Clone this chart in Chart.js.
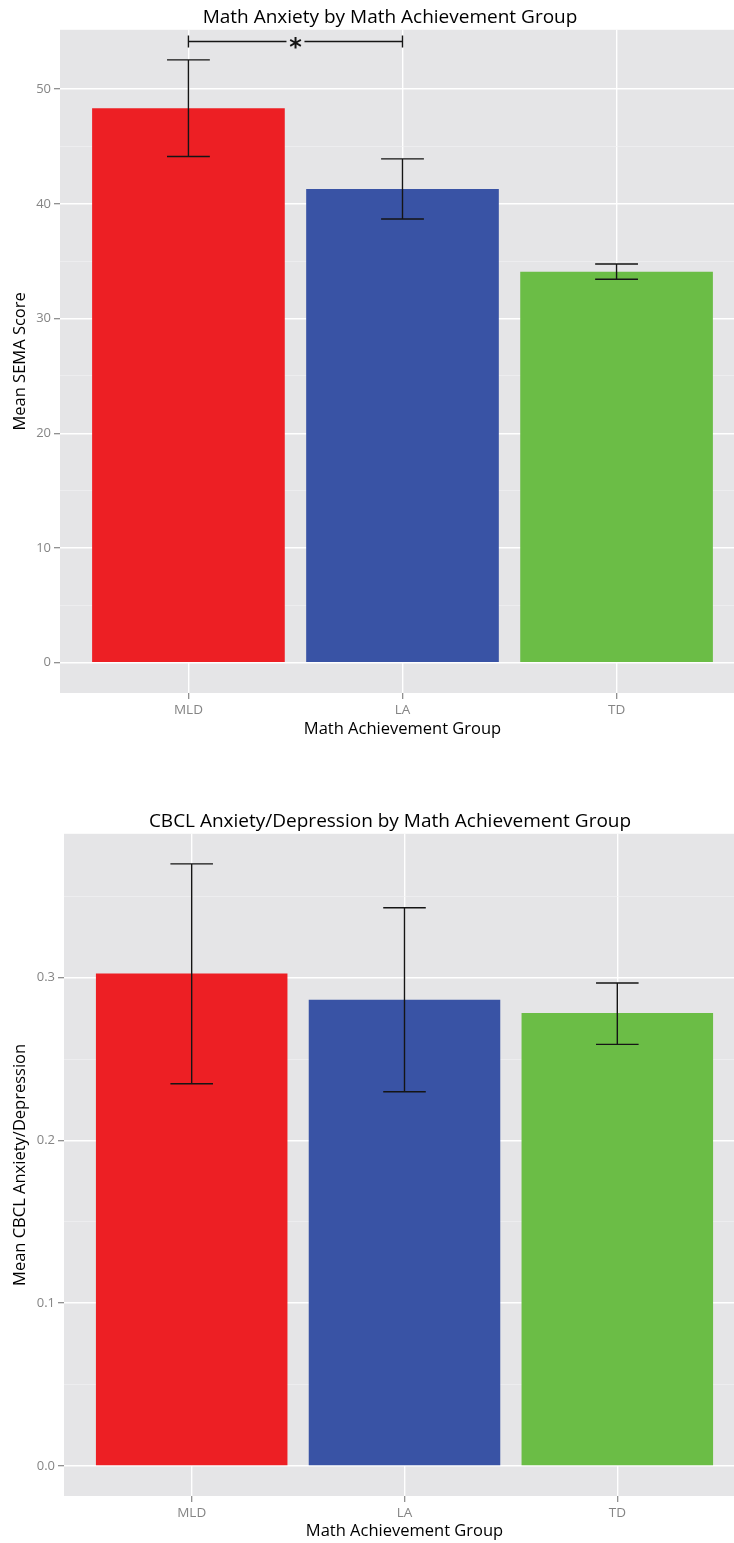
<!DOCTYPE html>
<html>
<head>
<meta charset="utf-8">
<script src="https://cdn.jsdelivr.net/npm/chart.js@4.4.1/dist/chart.umd.min.js"></script>
<style>
  body { margin: 0; background: #fff; overflow: hidden; width: 734px; height: 1543px; }
  .box { position: absolute; left: 0; }
</style>
</head>
<body>
<div class="box" style="top:0"><canvas id="semaChart" width="780" height="745"></canvas></div>
<div class="box" style="top:800px"><canvas id="cbclChart" width="780" height="743"></canvas></div>
<script>
// ===== DATA =====
const groups = ['MLD', 'LA', 'TD'];
const barColors = ['#ED1F24', '#3953A5', '#6BBD46'];

// top chart: SEMA
const semaMeans = [48.34, 41.3, 34.09];
const semaLow = [44.12, 38.68, 33.43];
const semaHigh = [52.55, 43.92, 34.76];
const semaTicks = [0, 10, 20, 30, 40, 50];
const semaMinor = [5, 15, 25, 35, 45];

// significance bracket between MLD and LA
const sigPair = [0, 1];
const sigValue = 54.15;
const sigLabel = '*';

// bottom chart: CBCL
const cbclMeans = [0.3025, 0.2865, 0.2783];
const cbclLow = [0.2348, 0.2299, 0.259];
const cbclHigh = [0.3699, 0.343, 0.2967];
const cbclTicks = [0, 0.1, 0.2, 0.3];
const cbclMinor = [0.05, 0.15, 0.25, 0.35];

Chart.defaults.font.family = "'Open Sans', sans-serif";

const TICK_GREY = '#858585';

// grey ggplot-like panel
const panelBg = {
  id: 'panelBg',
  beforeDraw(chart) {
    const { ctx, chartArea: a } = chart;
    ctx.save();
    ctx.fillStyle = '#E5E5E7';
    ctx.fillRect(a.left, a.top, a.right - a.left, a.bottom - a.top);
    ctx.restore();
  }
};

// error bars from dataset.errLow / errHigh
const errorBars = {
  id: 'errorBars',
  afterDatasetsDraw(chart) {
    const ds = chart.data.datasets[0];
    const xs = chart.scales.x, ys = chart.scales.y;
    const half = xs.getPixelForValue(0.1) - xs.getPixelForValue(0);
    const ctx = chart.ctx;
    ctx.save();
    ctx.strokeStyle = '#151515';
    ctx.lineWidth = 1.4;
    ds.errLow.forEach((lo, i) => {
      const x = xs.getPixelForValue(i);
      const yLo = ys.getPixelForValue(lo);
      const yHi = ys.getPixelForValue(ds.errHigh[i]);
      ctx.beginPath();
      ctx.moveTo(x, yLo); ctx.lineTo(x, yHi);
      ctx.moveTo(x - half, yLo); ctx.lineTo(x + half, yLo);
      ctx.moveTo(x - half, yHi); ctx.lineTo(x + half, yHi);
      ctx.stroke();
    });
    ctx.restore();
  }
};

// significance bracket (top chart only)
const sigBracket = {
  id: 'sigBracket',
  afterDatasetsDraw(chart) {
    const xs = chart.scales.x, ys = chart.scales.y;
    const x1 = xs.getPixelForValue(sigPair[0]);
    const x2 = xs.getPixelForValue(sigPair[1]);
    const y = ys.getPixelForValue(sigValue);
    const mid = (x1 + x2) / 2;
    const ctx = chart.ctx;
    ctx.save();
    ctx.strokeStyle = '#151515';
    ctx.lineWidth = 1.4;
    ctx.beginPath();
    ctx.moveTo(x1, y - 6); ctx.lineTo(x1, y + 6);
    ctx.moveTo(x2, y - 6); ctx.lineTo(x2, y + 6);
    ctx.moveTo(x1, y); ctx.lineTo(mid - 9, y);
    ctx.moveTo(mid + 9, y); ctx.lineTo(x2, y);
    ctx.stroke();
    ctx.fillStyle = '#151515';
    ctx.font = "bold 24px 'DejaVu Sans'";
    ctx.textAlign = 'center';
    ctx.textBaseline = 'alphabetic';
    ctx.fillText(sigLabel, mid, y + 13);
    ctx.restore();
  }
};

function makeChart(canvasId, cfg) {
  return new Chart(document.getElementById(canvasId), {
    type: 'bar',
    data: {
      datasets: [{
        data: groups.map((g, i) => ({ x: i, y: cfg.means[i] })),
        backgroundColor: barColors,
        borderWidth: 0,
        barPercentage: 0.9,
        categoryPercentage: 1,
        errLow: cfg.low,
        errHigh: cfg.high
      }]
    },
    options: {
      responsive: false,
      animation: false,
      layout: { padding: 0 },
      plugins: {
        legend: { display: false },
        tooltip: { enabled: false },
        title: {
          display: true,
          text: cfg.title,
          color: '#000',
          font: { size: 19, weight: 'normal' },
          padding: cfg.titlePad
        }
      },
      scales: {
        x: {
          type: 'linear',
          offset: false,
          min: -0.6,
          max: 2.6,
          afterBuildTicks: s => { s.ticks = groups.map((g, i) => ({ value: i })); },
          afterFit: s => { s.height = cfg.xHeight; },
          grid: { offset: false, color: '#FFFFFF', lineWidth: 1.4, tickColor: TICK_GREY, tickLength: 6, tickWidth: 1.2 },
          border: { display: false },
          ticks: { color: TICK_GREY, font: { size: 13.5 }, padding: 3, callback: v => groups[v] },
          title: {
            display: true,
            text: 'Math Achievement Group',
            color: '#000',
            font: { size: 16.5 },
            padding: { top: 0, bottom: cfg.xTitleBottom }
          }
        },
        y: {
          min: cfg.min,
          max: cfg.max,
          afterBuildTicks: s => { s.ticks = cfg.ticks.map(v => ({ value: v })); },
          afterFit: s => { s.width = cfg.yWidth; },
          grid: { color: '#FFFFFF', lineWidth: 1.4, tickColor: TICK_GREY, tickLength: 6, tickWidth: 1.2 },
          border: { display: false },
          ticks: { color: TICK_GREY, font: { size: 13 }, padding: 3, callback: cfg.fmt },
          title: {
            display: true,
            text: cfg.yTitle,
            color: '#000',
            font: { size: 16.5 },
            padding: { top: 10, bottom: 0 }
          }
        },
        // minor gridlines; its box on the right pushes the panel past the window edge
        yMinor: {
          position: 'right',
          min: cfg.min,
          max: cfg.max,
          afterBuildTicks: s => { s.ticks = cfg.minor.map(v => ({ value: v })); },
          afterFit: s => { s.width = 35; },
          grid: { color: '#F1F1F2', lineWidth: 0.7, drawTicks: false },
          border: { display: false },
          ticks: { display: false }
        }
      }
    },
    plugins: cfg.extra ? [panelBg, errorBars, cfg.extra] : [panelBg, errorBars]
  });
}

makeChart('semaChart', {
  title: 'Math Anxiety by Math Achievement Group',
  titlePad: { top: 6, bottom: 1 },
  yTitle: 'Mean SEMA Score',
  means: semaMeans, low: semaLow, high: semaHigh,
  ticks: semaTicks, minor: semaMinor,
  min: -2.64, max: 55.17,
  fmt: v => String(v),
  yWidth: 60, xHeight: 52, xTitleBottom: 6,
  extra: sigBracket
});

makeChart('cbclChart', {
  title: 'CBCL Anxiety/Depression by Math Achievement Group',
  titlePad: { top: 10, bottom: 1 },
  yTitle: 'Mean CBCL Anxiety/Depression',
  means: cbclMeans, low: cbclLow, high: cbclHigh,
  ticks: cbclTicks, minor: cbclMinor,
  min: -0.0185, max: 0.3884,
  fmt: v => v.toFixed(1),
  yWidth: 64, xHeight: 47, xTitleBottom: 2
});
</script>
</body>
</html>
